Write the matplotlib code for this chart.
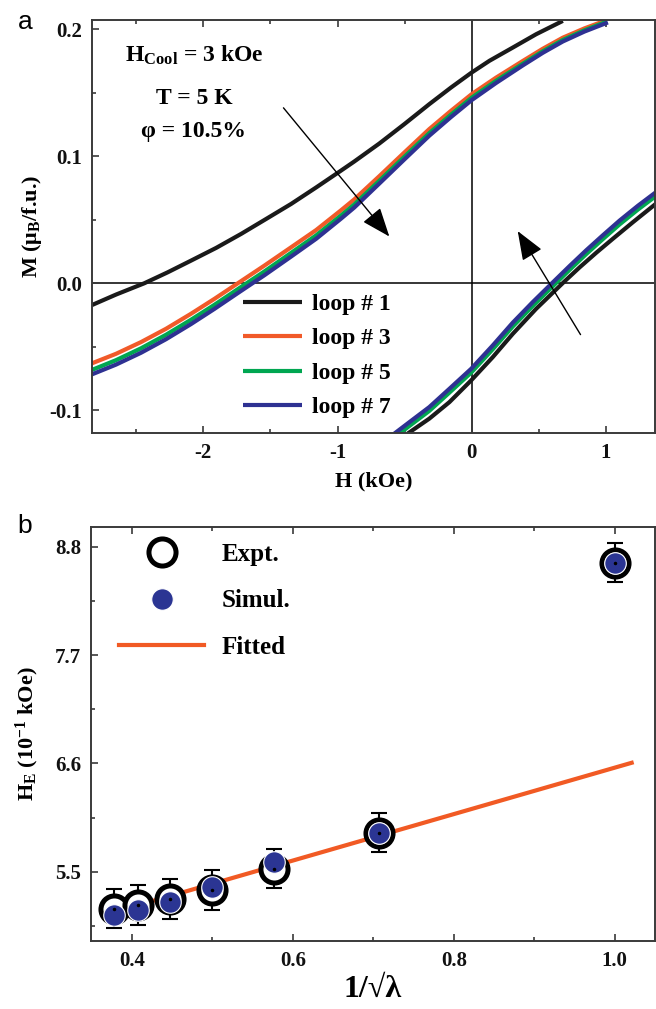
import matplotlib
matplotlib.use("Agg")
import matplotlib.pyplot as plt
from matplotlib.ticker import MultipleLocator, FormatStrFormatter

plt.rcParams['font.family'] = ['Liberation Serif', 'DejaVu Serif']
plt.rcParams['font.weight'] = 'bold'
plt.rcParams['axes.unicode_minus'] = False
plt.rcParams['mathtext.fontset'] = 'custom'
plt.rcParams['mathtext.rm'] = 'Liberation Serif:bold'
plt.rcParams['mathtext.it'] = 'Liberation Serif:bold'
plt.rcParams['mathtext.bf'] = 'Liberation Serif:bold'

# ---------------- Panel a data (H in kOe, M in muB/f.u.) ----------------
# descending (upper) branches
H_up_1 = [-2.838, -2.651, -2.440, -2.266, -2.092, -1.905, -1.719, -1.532, -1.346, -1.159,
          -0.973, -0.875, -0.689, -0.502, -0.316, -0.154, 0.0, 0.132, 0.306, 0.480, 0.679]
M_up_1 = [-0.0175, -0.0089, 0.0, 0.0086, 0.0178, 0.0278, 0.0388, 0.0506, 0.0624, 0.0754,
          0.0887, 0.0958, 0.1099, 0.1252, 0.1409, 0.1540, 0.1658, 0.1750, 0.1854, 0.1959, 0.2064]

H_up_3 = [-2.838, -2.651, -2.465, -2.278, -2.092, -1.918, -1.743, -1.545, -1.346, -1.159,
          -0.973, -0.875, -0.689, -0.502, -0.316, -0.154, 0.0, 0.182, 0.381, 0.530, 0.679, 0.840, 1.003]
M_up_3 = [-0.0633, -0.0555, -0.0463, -0.0358, -0.0240, -0.0123, 0.0, 0.0139, 0.0283, 0.0419,
          0.0575, 0.0660, 0.0842, 0.1029, 0.1213, 0.1357, 0.1488, 0.1618, 0.1749, 0.1845, 0.1932, 0.2005, 0.2069]

H_up_5 = [-2.838, -2.651, -2.465, -2.278, -2.092, -1.918, -1.743, -1.545, -1.346, -1.159,
          -0.973, -0.875, -0.689, -0.502, -0.316, -0.154, 0.0, 0.182, 0.381, 0.530, 0.679, 0.840, 1.008]
M_up_5 = [-0.0685, -0.0605, -0.0512, -0.0405, -0.0287, -0.0170, -0.0046, 0.0093, 0.0239, 0.0377,
          0.0534, 0.0620, 0.0806, 0.0995, 0.1181, 0.1327, 0.1460, 0.1593, 0.1727, 0.1825, 0.1914, 0.1990, 0.2059]

H_up_7 = [-2.838, -2.651, -2.465, -2.278, -2.092, -1.918, -1.743, -1.545, -1.346, -1.159,
          -0.973, -0.875, -0.689, -0.502, -0.316, -0.154, 0.0, 0.182, 0.381, 0.530, 0.679, 0.840, 1.015]
M_up_7 = [-0.0720, -0.0640, -0.0547, -0.0440, -0.0321, -0.0202, -0.0077, 0.0063, 0.0210, 0.0350,
          0.0509, 0.0596, 0.0784, 0.0974, 0.1161, 0.1308, 0.1441, 0.1576, 0.1714, 0.1813, 0.1902, 0.1980, 0.2052]

# ascending (lower) branches
H_dn_1 = [-0.478, -0.316, -0.166, -0.004, 0.157, 0.306, 0.480, 0.692, 0.804, 0.928,
          1.052, 1.201, 1.371]
M_dn_1 = [-0.1183, -0.1065, -0.0935, -0.0764, -0.0581, -0.0398, -0.0201, 0.0015, 0.0125, 0.0240,
          0.0350, 0.0480, 0.0624]

H_dn_3 = [-0.577, -0.440, -0.316, -0.166, -0.004, 0.157, 0.306, 0.455, 0.593, 0.729,
          0.854, 0.978, 1.102, 1.239, 1.371]
M_dn_3 = [-0.1195, -0.1085, -0.0986, -0.0842, -0.0685, -0.0501, -0.0322, -0.0160, -0.0017, 0.0123,
          0.0248, 0.0366, 0.0481, 0.0598, 0.0703]

H_dn_5 = [-0.577, -0.440, -0.316, -0.166, -0.004, 0.157, 0.306, 0.455, 0.593, 0.729,
          0.854, 0.978, 1.102, 1.239, 1.371]
M_dn_5 = [-0.1213, -0.1103, -0.1004, -0.0860, -0.0703, -0.0519, -0.0340, -0.0178, -0.0035, 0.0105,
          0.0230, 0.0348, 0.0463, 0.0580, 0.0685]

H_dn_7 = [-0.577, -0.440, -0.316, -0.166, -0.004, 0.157, 0.306, 0.455, 0.593, 0.729,
          0.854, 0.978, 1.102, 1.239, 1.371]
M_dn_7 = [-0.1183, -0.1073, -0.0974, -0.0830, -0.0673, -0.0489, -0.0310, -0.0148, -0.0005, 0.0135,
          0.0260, 0.0378, 0.0493, 0.0610, 0.0715]

loop_labels = ['loop # 1', 'loop # 3', 'loop # 5', 'loop # 7']
loop_colors = ['#1a1a1a', '#F15A29', '#00A651', '#2E3192']

# arrows (tail -> tip) in data coords
arrow1_tail = (-1.403, 0.138)
arrow1_tip = (-0.614, 0.0368)
arrow2_tail = (0.811, -0.0404)
arrow2_tip = (0.343, 0.041)

# ---------------- Panel b data ----------------
x_inv_sqrt_lambda = [0.378, 0.408, 0.447, 0.500, 0.577, 0.707, 1.000]
HE_expt = [5.125, 5.162, 5.222, 5.316, 5.532, 5.896, 8.642]
HE_err = [0.20, 0.20, 0.20, 0.20, 0.20, 0.20, 0.20]
HE_simul = [5.060, 5.111, 5.195, 5.348, 5.602, 5.896, 8.642]
fit_x = [0.378, 1.021]
fit_y = [5.090, 6.607]

fig = plt.figure(figsize=(6.56, 10.09), dpi=100)

spine_col = '#3a3a3a'
tick_fs = 15

def style_axes(ax):
    for s in ax.spines.values():
        s.set_color(spine_col)
        s.set_linewidth(1.4)
    ax.tick_params(which='both', direction='in', top=True, right=False,
                   colors=spine_col, labelcolor='#111111', width=1.2,
                   labelsize=tick_fs, pad=7)
    ax.tick_params(which='major', length=5)
    ax.tick_params(which='minor', length=3)
    for lab in ax.get_xticklabels() + ax.get_yticklabels():
        lab.set_fontweight('bold')

# ---------------- Panel a ----------------
axa = fig.add_axes([92/656, 1 - 433/1009, 563/656, 413/1009])
axa.axhline(0, color='black', lw=1.1, zorder=1)
axa.axvline(0, color='black', lw=1.1, zorder=1)

ups = [(H_up_1, M_up_1), (H_up_3, M_up_3), (H_up_5, M_up_5), (H_up_7, M_up_7)]
dns = [(H_dn_1, M_dn_1), (H_dn_3, M_dn_3), (H_dn_5, M_dn_5), (H_dn_7, M_dn_7)]
for (hu, mu), (hd, md), c, lab in zip(ups, dns, loop_colors, loop_labels):
    axa.plot(hu, mu, color=c, lw=3, solid_capstyle='butt', solid_joinstyle='round',
             label=lab, zorder=2)
    axa.plot(hd, md, color=c, lw=3, solid_capstyle='butt', solid_joinstyle='round', zorder=2)

axa.set_xlim(-2.83, 1.366)
axa.set_ylim(-0.1178, 0.2071)
axa.xaxis.set_major_locator(MultipleLocator(1))
axa.xaxis.set_minor_locator(MultipleLocator(0.5))
axa.yaxis.set_major_locator(MultipleLocator(0.1))
axa.yaxis.set_minor_locator(MultipleLocator(0.05))
axa.yaxis.set_major_formatter(FormatStrFormatter('%.1f'))
axa.xaxis.set_major_formatter(FormatStrFormatter('%d'))
style_axes(axa)

for tail, tip in [(arrow1_tail, arrow1_tip), (arrow2_tail, arrow2_tip)]:
    axa.annotate('', xy=tip, xytext=tail,
                 arrowprops=dict(arrowstyle='-|>,head_length=1.8,head_width=0.7',
                                 mutation_scale=10, lw=1.0, color='black',
                                 shrinkA=0, shrinkB=0), zorder=5)

axa.text(0.181, 0.899, r'H$_{\rm Cool}$ = 3 kOe', transform=axa.transAxes,
         ha='center', va='baseline', fontsize=17, fontweight='bold')
axa.text(0.181, 0.797, 'T = 5 K', transform=axa.transAxes,
         ha='center', va='baseline', fontsize=17, fontweight='bold')
axa.text(0.181, 0.7174, 'φ = 10.5%', transform=axa.transAxes,
         ha='center', va='baseline', fontsize=17, fontweight='bold')

leg = axa.legend(loc='upper left', bbox_to_anchor=(0.268, 0.338), frameon=False,
                 fontsize=17, handlelength=2.5, handletextpad=0.42,
                 labelspacing=0.55, borderpad=0, borderaxespad=0)
for t in leg.get_texts():
    t.set_fontweight('bold')

axa.set_xlabel('H (kOe)', fontsize=16, fontweight='bold', labelpad=6)
axa.set_ylabel(r'M ($\mu_{\rm B}$/f.u.)', fontsize=16, fontweight='bold', labelpad=4)

fig.text(25/656, 1 - 22/1009, 'a', family='Liberation Sans', fontsize=19,
         fontweight='normal', ha='center', va='center')

# ---------------- Panel b ----------------
axb = fig.add_axes([91/656, 1 - 941/1009, 564/656, 414/1009])
axb.plot(fit_x, fit_y, color='#F15A24', lw=3, zorder=2)
axb.errorbar(x_inv_sqrt_lambda, HE_expt, yerr=HE_err, fmt='none', ecolor='black',
             elinewidth=1.5, capsize=6, capthick=1.5, zorder=3)
axb.plot(x_inv_sqrt_lambda, HE_expt, 'o', ms=19.5, mfc='white', mec='black',
         mew=3.6, ls='none', zorder=4, label='Expt.')
axb.plot(x_inv_sqrt_lambda, HE_simul, 'o', ms=15.5, mfc='#2B3593', mec='white',
         mew=0.8, ls='none', zorder=5, label='Simul.')
axb.plot(x_inv_sqrt_lambda, HE_expt, 'o', ms=1.5, color='black', ls='none', zorder=6)
axb.plot([], [], color='#F15A24', lw=3, label='Fitted')

axb.set_xlim(0.349, 1.050)
axb.set_ylim(4.796, 9.003)
axb.xaxis.set_major_locator(MultipleLocator(0.2))
axb.xaxis.set_minor_locator(MultipleLocator(0.1))
axb.yaxis.set_major_locator(MultipleLocator(1.1))
axb.yaxis.set_minor_locator(MultipleLocator(0.55))
axb.yaxis.set_major_formatter(FormatStrFormatter('%.1f'))
axb.xaxis.set_major_formatter(FormatStrFormatter('%.1f'))
style_axes(axb)

handles, labels = axb.get_legend_handles_labels()
legb = axb.legend(handles, labels, loc='upper left', bbox_to_anchor=(0.05, 0.962),
                  frameon=False, fontsize=18, handlelength=3.4, handletextpad=0.7,
                  labelspacing=0.95, borderpad=0, borderaxespad=0, numpoints=1)
for t in legb.get_texts():
    t.set_fontweight('bold')

axb.set_xlabel('1/√λ', fontsize=23, fontweight='bold', labelpad=3)
axb.set_ylabel(r'H$_{\rm E}$ (10$^{-1}$ kOe)', fontsize=16, fontweight='bold', labelpad=10)

fig.text(25/656, 1 - 526/1009, 'b', family='Liberation Sans', fontsize=19,
         fontweight='normal', ha='center', va='center')

fig.savefig('out.png', dpi=100)
